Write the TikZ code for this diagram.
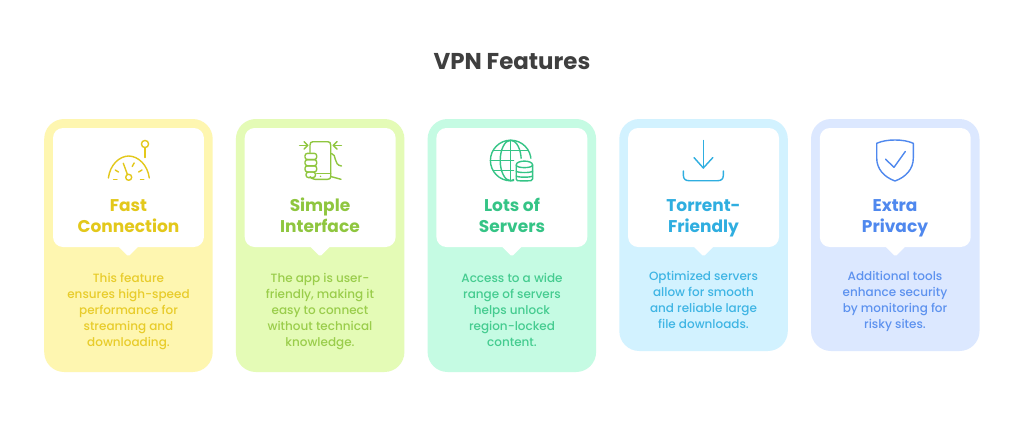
\documentclass[tikz,border=0pt]{standalone}
\usepackage{fontspec}
\setmainfont{Poppins}
\newfontfamily\bodyfont{Poppins Medium}
\definecolor{yfill}{HTML}{FEF6B0}\definecolor{yhead}{HTML}{E3C81B}\definecolor{ybody}{HTML}{E8CC2B}
\definecolor{gfill}{HTML}{E4FBB6}\definecolor{ghead}{HTML}{8FC63F}\definecolor{gbody}{HTML}{9ACD4B}
\definecolor{mfill}{HTML}{C5FBE3}\definecolor{mhead}{HTML}{35C486}\definecolor{mbody}{HTML}{45CC90}
\definecolor{bfill}{HTML}{D2F2FF}\definecolor{bhead}{HTML}{2FAEE0}\definecolor{bbody}{HTML}{3FB5E4}
\definecolor{pfill}{HTML}{DCE8FF}\definecolor{phead}{HTML}{4F88EE}\definecolor{pbody}{HTML}{5D92EF}
\definecolor{titlecol}{HTML}{3F3F3F}
\tikzset{
  titletext/.style={text=titlecol,font=\fontsize{22.9}{26}\selectfont\bfseries,anchor=base,inner sep=0pt},
  headtext/.style={font=\fontsize{17}{21}\selectfont\bfseries,align=center,anchor=base,inner sep=0pt},
  bodytext/.style={font=\bodyfont\fontsize{12}{16}\selectfont,align=center,anchor=base,inner sep=0pt},
  icon/.style={line width=1.4pt,line cap=round,line join=round,fill=none},
}
% #1 left, #2 bottom, #3 fill
\newcommand{\featurecard}[3]{%
  \fill[#3,rounded corners=20pt] (#1,119) rectangle (#1+168.5,#2);
  \fill[white,rounded corners=10pt] (#1+8.8,128) rectangle (#1+159.7,247);
  \fill[white,rounded corners=1.5pt] (#1+73.75,246) -- (#1+84.25,256.5) -- (#1+94.75,246) -- cycle;
}
\begin{document}
\begin{tikzpicture}[x=1pt,y=-1pt]
\useasboundingbox (0,0) rectangle (1024,428);
\fill[white] (0,0) rectangle (1024,428);
\node[titletext] (title) at (512,69) {VPN Features};

\featurecard{44.2}{372}{yfill}
\featurecard{235.9}{372}{gfill}
\featurecard{427.6}{372}{mfill}
\featurecard{619.3}{351}{bfill}
\featurecard{811}{351}{pfill}

% gauge
\begin{scope}[icon,draw=yhead]
  \draw (108.4,178) .. controls (110,165) and (119,156.2) .. (128.7,156) .. controls (138.4,156.2) and (147.6,165) .. (149.3,178);
  \draw (128.7,177.3) circle[radius=3pt];
  \draw (123.3,163.3) -- (127.4,174.4);
  \draw (145,144) circle[radius=3.6pt];
  \draw (145,147.6) -- (145,157.5);
  \draw (113.6,179.3) -- (117,179.3);
  \draw (140.5,179.3) -- (143.8,179.3);
  \draw (115.2,170) -- (118.5,172);
  \draw (138.6,172) -- (142,170);
  \draw (132.2,166.5) -- (134.2,162.9);
\end{scope}

% phone in hand
\begin{scope}[icon,draw=ghead]
  \draw (310,152.5) -- (310,145) .. controls (310,142.8) and (311,141.7) .. (313,141.7) -- (327.7,141.7) .. controls (329.7,141.7) and (330.7,142.8) .. (330.7,145) -- (330.7,176.5) .. controls (330.7,178.5) and (329.7,179.3) .. (327.7,179.3) -- (315,179.3) .. controls (312.5,179.3) and (311,178) .. (310,176.5);
  \draw (316.7,173.3) -- (330.7,173.3);
  \fill[ghead] (320.5,176.3) circle[radius=.8pt];
  \draw[rounded corners=2.5pt] (305,153.3) -- (316.7,153.3) -- (316.7,159.6) -- (305,159.6) -- cycle;
  \draw[rounded corners=2.5pt] (305,159.6) -- (316.7,159.6) -- (316.7,165.8) -- (305,165.8) -- cycle;
  \draw[rounded corners=2.5pt] (305,165.8) -- (316.7,165.8) -- (316.7,172) -- (305,172) -- cycle;
  \draw[rounded corners=2.5pt] (306,172) -- (315.5,172) -- (315.5,177.6) -- (306,177.6) -- cycle;
  \draw (299.6,145.4) -- (307.6,145.4);
  \draw (304,141.6) -- (307.8,145.4) -- (304,149.2);
  \draw (341.4,145.4) -- (333.4,145.4);
  \draw (337,141.6) -- (333.2,145.4) -- (337,149.2);
  \draw (331.5,153.5) .. controls (337,154) and (333,165) .. (341.5,166);
  \draw (330.7,176.5) -- (341,179.3);
\end{scope}

% globe + database
\begin{scope}[icon,draw=mhead]
  \begin{scope}[even odd rule]
    \clip (480,130) rectangle (540,190) (514,158.5) rectangle (540,190);
    \draw (510.7,160.5) circle[radius=20.3pt];
    \draw (510.7,160.5) ellipse[x radius=10.5pt,y radius=20.3pt];
    \draw (510.7,140.2) -- (510.7,180.8);
    \draw (493.5,150.5) -- (528,150.5);
    \draw (490.6,160.5) -- (531,160.5);
    \draw (493.5,170.5) -- (528,170.5);
  \end{scope}
  \draw (516.2,165) .. controls (516.2,159.8) and (532.6,159.8) .. (532.6,165) -- (532.6,179) .. controls (532.6,181) and (530,180.8) .. (528,180.8) -- (520,180.8) .. controls (518,180.8) and (516.2,181) .. (516.2,179) -- cycle;
  \draw (516.2,165) .. controls (516.2,168.5) and (532.6,168.5) .. (532.6,165);
  \draw (516.2,171.2) .. controls (518,173) and (530.8,173) .. (532.6,171.2);
  \draw (516.2,176) .. controls (518,177.6) and (530.8,177.6) .. (532.6,176);
\end{scope}

% download
\begin{scope}[icon,draw=bhead]
  \draw (703.3,140.5) -- (703.3,168);
  \draw (694,157.6) -- (703.3,168) -- (712.8,157.6);
  \draw (683.4,171) -- (683.4,175.5) .. controls (683.4,179) and (685.5,180.7) .. (689,180.7) -- (717.7,180.7) .. controls (721.2,180.7) and (723.3,179) .. (723.3,175.5) -- (723.3,171);
\end{scope}

% shield
\begin{scope}[icon,draw=phead]
  \draw (895,140) .. controls (888,140) and (882,141) .. (876.7,143.3) -- (876.7,158) .. controls (876.7,169) and (884,177) .. (895,181) .. controls (906,177) and (913.3,169) .. (913.3,158) -- (913.3,143.3) .. controls (908,141) and (902,140) .. (895,140) -- cycle;
  \draw (885.5,159.2) -- (894,167.3) -- (905.3,151.5);
\end{scope}

\node[headtext,text=yhead] (h1) at (128.5,232) {Fast\\Connection};
\node[headtext,text=ghead] (h2) at (320,232) {Simple\\Interface};
\node[headtext,text=mhead] (h3) at (512,232) {Lots of\\Servers};
\node[headtext,text=bhead] (h4) at (703.5,232) {Torrent-\\Friendly};
\node[headtext,text=phead] (h5) at (895,232) {Extra\\Privacy};

\node[bodytext,text=ybody] (b1) at (128.5,346.5) {This feature\\ensures high-speed\\performance for\\streaming and\\downloading.};
\node[bodytext,text=gbody] (b2) at (320,346.5) {The app is user-\\friendly, making it\\easy to connect\\without technical\\knowledge.};
\node[bodytext,text=mbody] (b3) at (512,346.5) {Access to a wide\\range of servers\\helps unlock\\region-locked\\content.};
\node[bodytext,text=bbody] (b4) at (703.5,328) {Optimized servers\\allow for smooth\\and reliable large\\file downloads.};
\node[bodytext,text=pbody] (b5) at (895,328) {Additional tools\\enhance security\\by monitoring for\\risky sites.};
\end{tikzpicture}
\end{document}
